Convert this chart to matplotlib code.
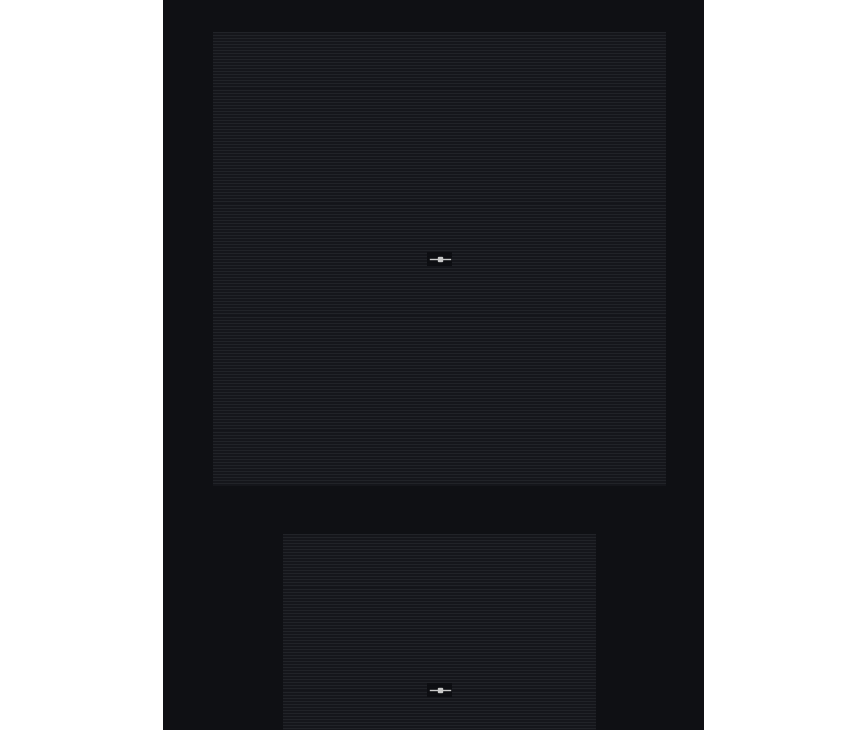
import matplotlib
matplotlib.use("Agg")
import matplotlib.pyplot as plt
from matplotlib.patches import Rectangle
from matplotlib.ticker import MultipleLocator

# chart data (nothing visible is plotted besides the legend handle)
series_x = []
series_y = []
series_label = ""
y_top_range = (0, 150)
y_bottom_range = (0, 103)

bg_panel = "#0f1014"
ax_face = "#131419"
stripe = "#212328"
handle_col = "#c8c8c8"

fig = plt.figure(figsize=(8.67, 7.3), dpi=100)
fig.patch.set_facecolor("white")
fig.patches.append(Rectangle((163 / 867, 0), 541 / 867, 1, transform=fig.transFigure,
                             facecolor=bg_panel, edgecolor="none", zorder=-10))

ax1 = fig.add_axes([213 / 867, (730 - 486) / 730, 453 / 867, 454 / 730])
ax2 = fig.add_axes([283 / 867, (730 - 846) / 730, 313 / 867, 312 / 730])

for ax, yr in ((ax1, y_top_range), (ax2, y_bottom_range)):
    ax.set_zorder(1)
    ax.set_facecolor(ax_face)
    ax.plot(series_x, series_y, color=handle_col, marker="s", markersize=3, lw=1)
    ax.set_xlim(0, 1)
    ax.set_ylim(*yr)
    ax.yaxis.set_major_locator(MultipleLocator(1))
    ax.grid(axis="y", color=stripe, lw=1)
    ax.tick_params(left=False, bottom=False, labelleft=False, labelbottom=False)
    for s in ax.spines.values():
        s.set_visible(False)
    h = ax.lines[0]
    leg = ax.legend([h], [series_label], loc="center", fontsize=6, handlelength=2.4,
                    handletextpad=0, borderpad=0.3, borderaxespad=0, frameon=True)
    fr = leg.get_frame()
    fr.set_facecolor("#0d0e12")
    fr.set_edgecolor("none")
    fr.set_alpha(1)
    fr.set_boxstyle("square", pad=0)

fig.savefig("out.png", dpi=100, facecolor="white")
